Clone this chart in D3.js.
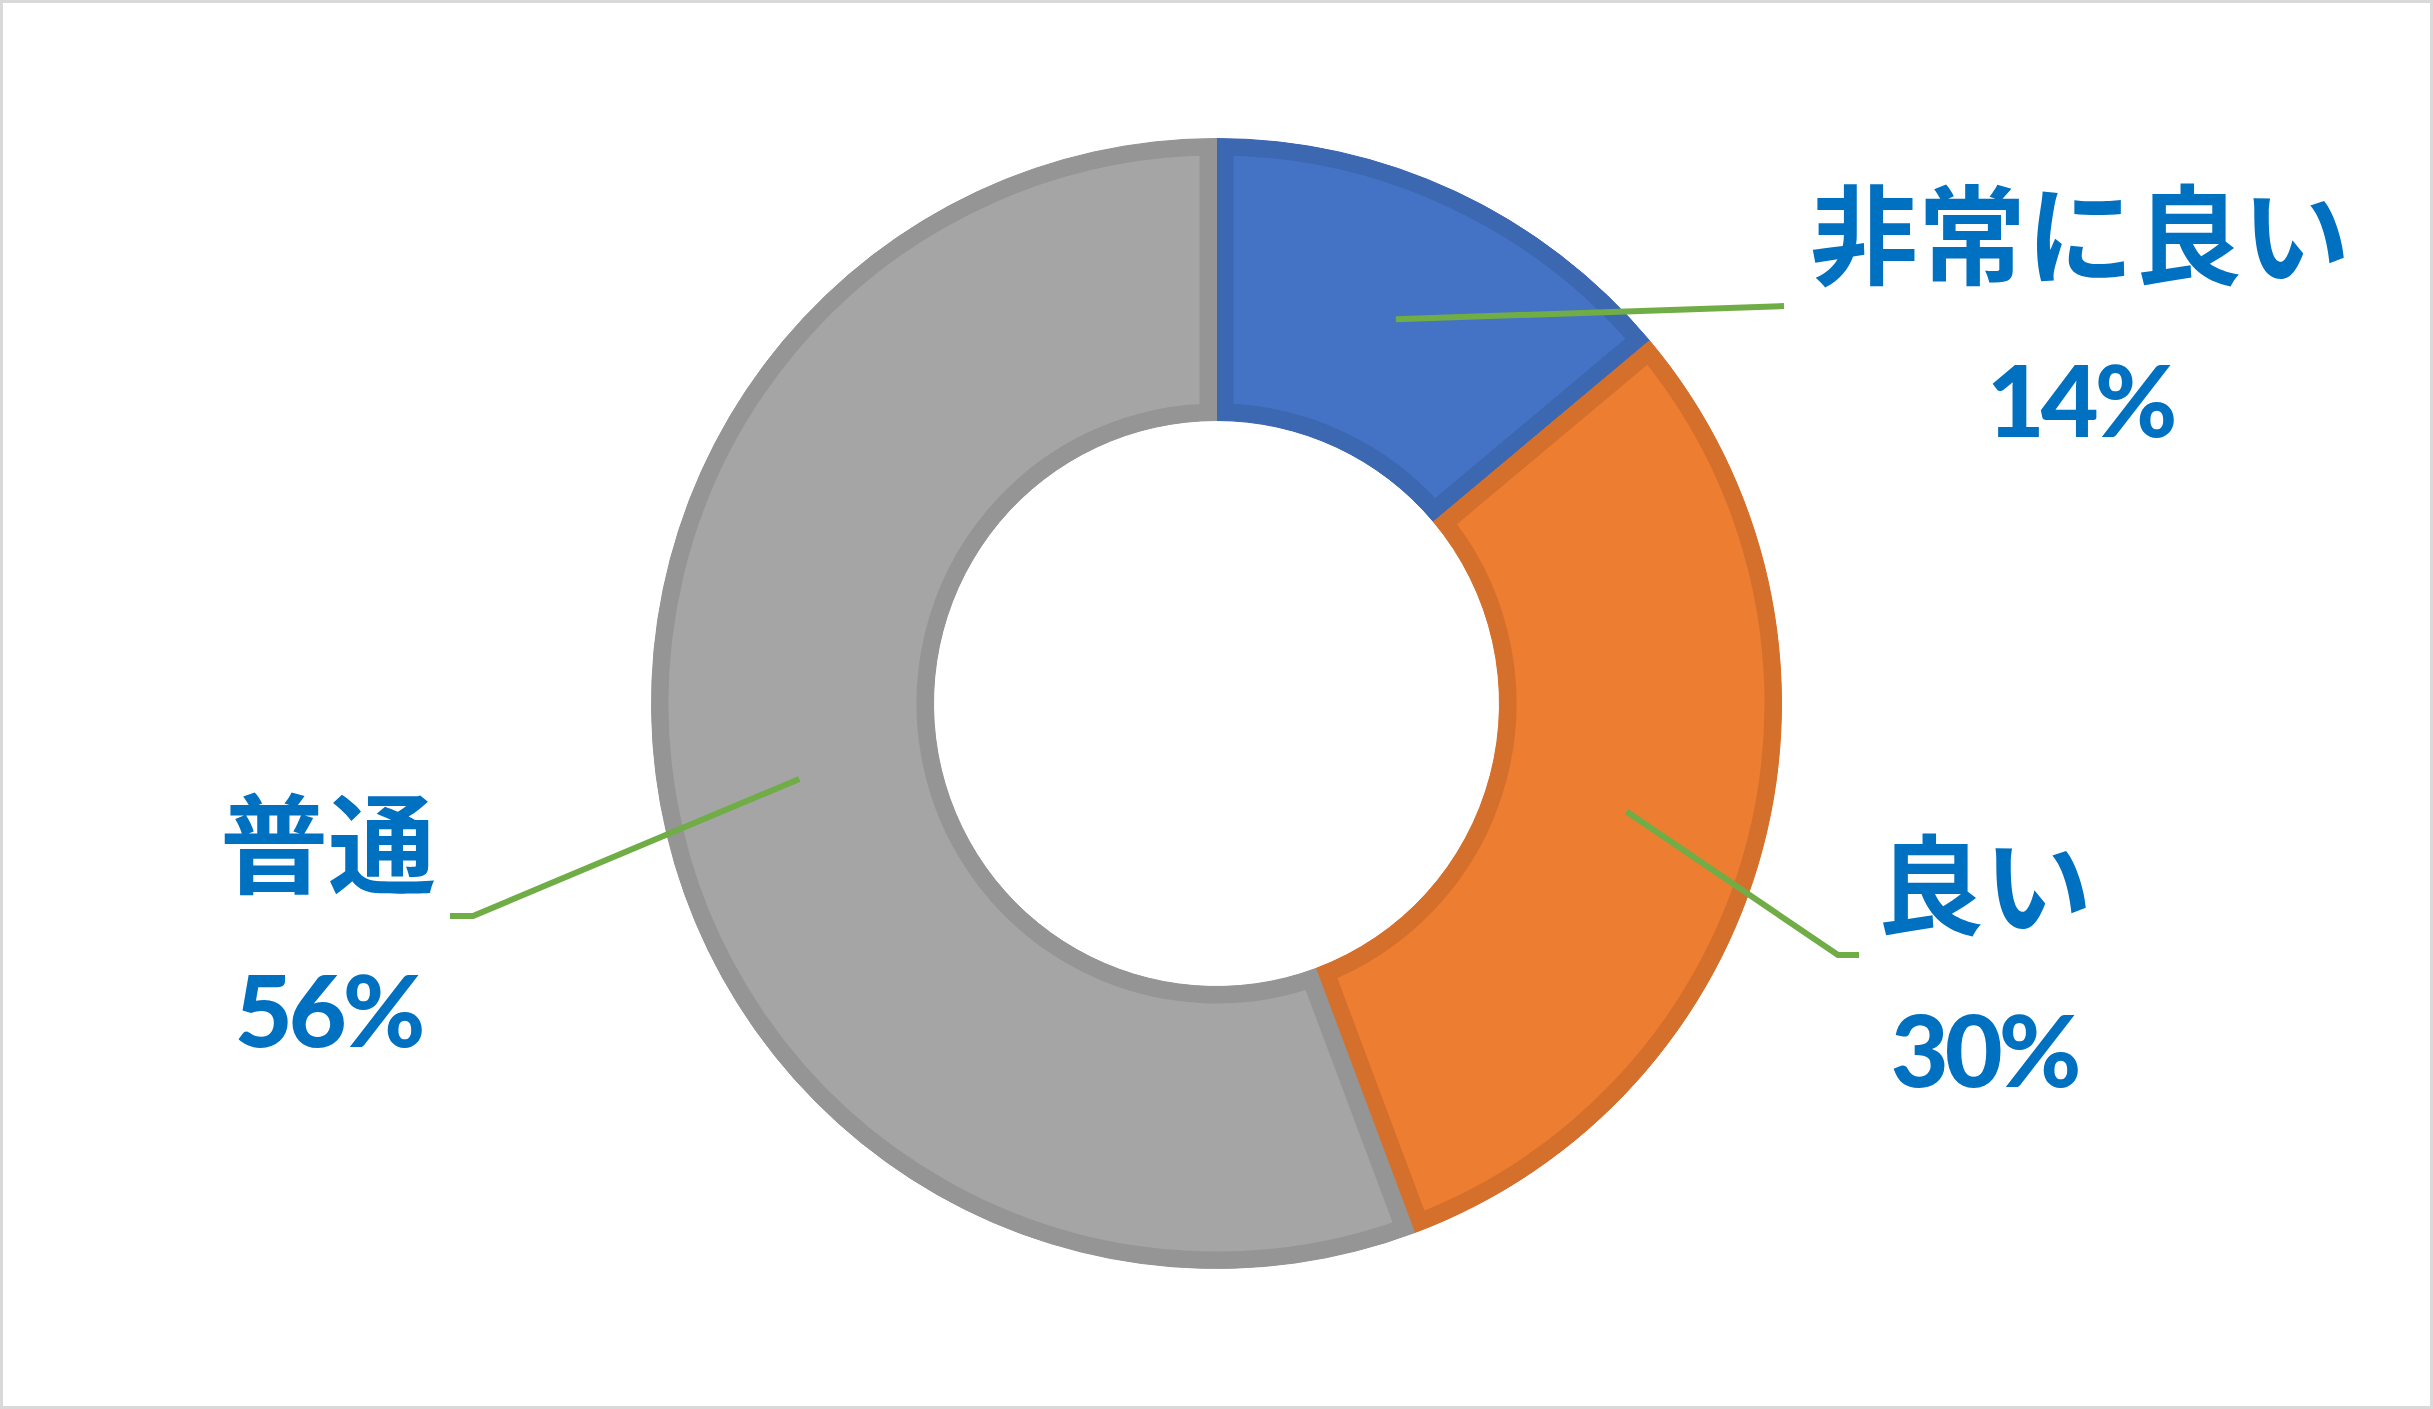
<!DOCTYPE html>
<html>
<head>
<meta charset="utf-8">
<script src="https://cdn.jsdelivr.net/npm/d3@7"></script>
<style>
  body { margin: 0; background: #fff; }
  svg { display: block; }
</style>
</head>
<body>
<div id="chart"></div>
<script>
var categories = ["非常に良い", "良い", "普通"];
var values = [13.9, 30.4, 55.7];
var percentLabels = ["14%", "30%", "56%"];

var fillColors = ["#4472C4", "#ED7D31", "#A5A5A5"];
var edgeColors = ["#3C67B1", "#D5702C", "#959595"];

var width = 2433,
    height = 1409;

var cx = 1216.5, cy = 703.5,
    outerR = 565, innerR = 283,
    edge = 17;

// callout placement: leader elbow / end and text position
var callouts = [
    {elbow: [1784, 306], end: [1784, 306], tx: 2080, nameY: 276, pctY: 437},
    {elbow: [1838, 955], end: [1859, 955], tx: 1984, nameY: 926, pctY: 1087},
    {elbow: [473, 916], end: [450, 916], tx: 328, nameY: 885, pctY: 1047}
];

var svg = d3.select("#chart").append("svg")
    .attr("width", width)
    .attr("height", height);

svg.append("rect")
    .attr("x", 1.5)
    .attr("y", 1.5)
    .attr("width", width - 3)
    .attr("height", height - 3)
    .attr("fill", "#fff")
    .attr("stroke", "#D9D9D9")
    .attr("stroke-width", 3);

var pie = d3.pie()
    .sort(null)
    .value(function(d) { return d; });

var arc = d3.arc()
    .innerRadius(innerR)
    .outerRadius(outerR);

var midArc = d3.arc()
    .innerRadius((innerR + outerR) / 2)
    .outerRadius((innerR + outerR) / 2);

var arcs = pie(values);

var g = svg.append("g")
    .attr("transform", "translate(" + cx + "," + cy + ")");

var defs = svg.append("defs");
defs.selectAll("clipPath")
    .data(arcs)
    .enter().append("clipPath")
    .attr("id", function(d, i) { return "slice" + i; })
    .append("path")
    .attr("d", arc);

var slice = g.selectAll(".slice")
    .data(arcs)
    .enter().append("g")
    .attr("class", "slice");

slice.append("path")
    .attr("d", arc)
    .attr("fill", function(d, i) { return fillColors[i]; })
    .attr("stroke", function(d, i) { return edgeColors[i]; })
    .attr("stroke-width", 1);

// outline drawn inside each slice only
slice.append("path")
    .attr("d", arc)
    .attr("fill", "none")
    .attr("clip-path", function(d, i) { return "url(#slice" + i + ")"; })
    .attr("stroke", function(d, i) { return edgeColors[i]; })
    .attr("stroke-width", edge * 2)
    .attr("stroke-linejoin", "miter");

//********** LEADER LINES ************
var line = d3.line();

svg.selectAll(".leader")
    .data(arcs)
    .enter().append("path")
    .attr("class", "leader")
    .attr("d", function(d, i) {
        var c = midArc.centroid(d);
        return line([[cx + c[0], cy + c[1]], callouts[i].elbow, callouts[i].end]);
    })
    .attr("fill", "none")
    .attr("stroke", "#70AD47")
    .attr("stroke-width", 6);

//********** LABELS ************
var label = svg.selectAll(".label")
    .data(categories)
    .enter().append("g")
    .attr("class", "label")
    .attr("fill", "#0070C0")
    .attr("text-anchor", "middle");

label.append("text")
    .attr("x", function(d, i) { return callouts[i].tx; })
    .attr("y", function(d, i) { return callouts[i].nameY; })
    .style("font-family", "'Noto Sans CJK JP', sans-serif")
    .style("font-weight", "bold")
    .style("font-size", "108px")
    .text(function(d) { return d; });

label.append("text")
    .attr("x", function(d, i) { return callouts[i].tx; })
    .attr("y", function(d, i) { return callouts[i].pctY; })
    .style("font-family", "Lato, sans-serif")
    .style("font-weight", "900")
    .style("font-size", "100px")
    .style("letter-spacing", "-4px")
    .text(function(d, i) { return percentLabels[i]; });
</script>
</body>
</html>
